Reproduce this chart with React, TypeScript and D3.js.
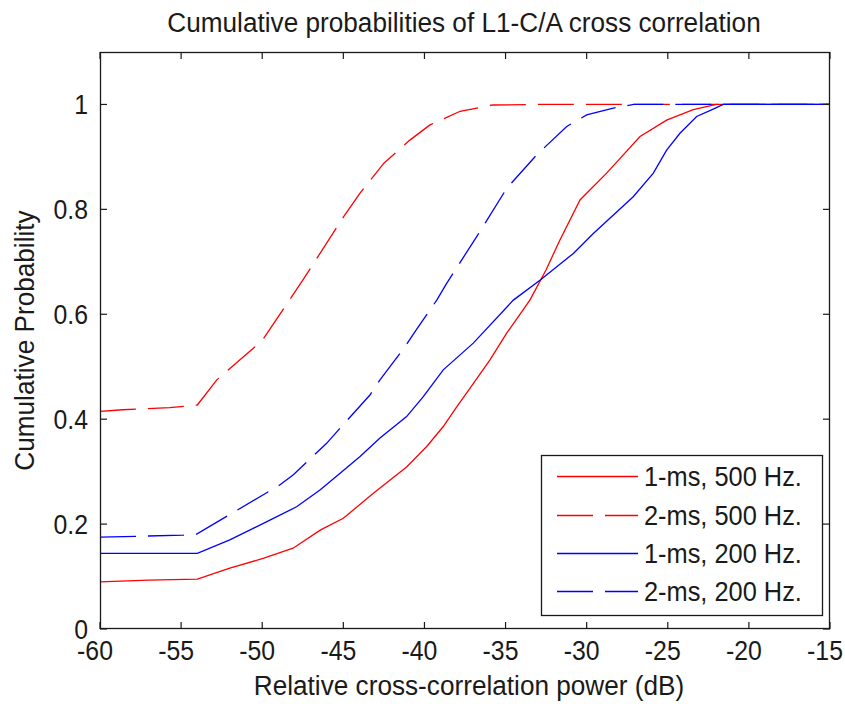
import React from 'react';
import * as d3 from 'd3';

const titleText = 'Cumulative probabilities of L1-C/A cross correlation';
const xLabel = 'Relative cross-correlation power (dB)';
const yLabel = 'Cumulative Probability';
const xTicks = [-60, -55, -50, -45, -40, -35, -30, -25, -20, -15];
const yTicks = [0, 0.2, 0.4, 0.6, 0.8, 1];

const red1X = [-60, -57, -54, -52, -49.9, -48.1, -46.4, -45, -43.15, -41.1, -39.86, -38.84, -38, -36.99, -35.96, -34.93, -33.5, -32.5, -31.64, -30.41, -28.77, -26.71, -25.07, -23.43, -22, -15];
const red1Y = [0.09, 0.093, 0.095, 0.116, 0.135, 0.154, 0.189, 0.211, 0.259, 0.309, 0.348, 0.386, 0.424, 0.468, 0.513, 0.564, 0.627, 0.685, 0.742, 0.818, 0.869, 0.939, 0.97, 0.99, 1, 1];

const red2X = [-60, -58.6, -55.7, -54, -52.8, -50, -47.5, -45, -43.97, -42.5, -40.9, -39.66, -37.8, -35.8, -33, -15];
const red2Y = [0.415, 0.418, 0.422, 0.427, 0.475, 0.55, 0.665, 0.785, 0.831, 0.888, 0.932, 0.961, 0.987, 0.999, 1, 1];

const blue1X = [-60, -54, -52, -49.93, -47.88, -46.44, -45.2, -43.97, -42.74, -41.1, -40.07, -38.84, -36.99, -34.52, -32.88, -30.82, -29.59, -27.13, -25.89, -25.07, -24.25, -23.22, -22.2, -21.58, -15];
const blue1Y = [0.144, 0.144, 0.17, 0.2015, 0.233, 0.265, 0.297, 0.329, 0.364, 0.405, 0.443, 0.494, 0.545, 0.627, 0.665, 0.716, 0.754, 0.824, 0.869, 0.913, 0.945, 0.977, 0.991, 1, 1];

const blue2X = [-60, -54.87, -54.04, -51.9, -48.9, -48.08, -46.03, -45.2, -43.36, -42.74, -41.2, -40.58, -39.24, -38.63, -36.78, -34.93, -33.08, -31.23, -30, -28.36, -27.1, -15];
const blue2Y = [0.175, 0.179, 0.181, 0.22, 0.275, 0.294, 0.354, 0.383, 0.446, 0.475, 0.538, 0.567, 0.627, 0.659, 0.748, 0.84, 0.904, 0.958, 0.98, 0.993, 1, 1];

const seriesNames = ['1-ms, 500 Hz.', '2-ms, 500 Hz.', '1-ms, 200 Hz.', '2-ms, 200 Hz.'];
const seriesColors = ['#ff0000', '#ff0000', '#0000ff', '#0000ff'];
const seriesDashed = [false, true, false, true];

const W = 845;
const H = 704;
const M = { left: 100, right: 830, top: 52, bottom: 629 };
const FONT = '"Liberation Sans", Arial, Helvetica, sans-serif';
const INK = '#1a1a1a';

function T(props: {
  x: number;
  y: number;
  size: number;
  sx?: number;
  anchor?: string;
  rotate?: number;
  children: React.ReactNode;
}) {
  const { x, y, size, sx = 0.92, anchor = 'start', rotate = 0, children } = props;
  return (
    <text
      transform={`translate(${x},${y}) rotate(${rotate}) scale(${sx},1)`}
      fontSize={size}
      textAnchor={anchor}
      fill={INK}
    >
      {children}
    </text>
  );
}

export default function App() {
  const x = d3.scaleLinear().domain([-60, -15]).range([M.left, M.right]);
  const y = d3.scaleLinear().domain([0, 1.1]).range([M.bottom, M.top]);
  const line = d3
    .line<[number, number]>()
    .x((d) => x(d[0]))
    .y((d) => y(d[1]));

  const series = [
    d3.zip(red1X, red1Y) as [number, number][],
    d3.zip(red2X, red2Y) as [number, number][],
    d3.zip(blue1X, blue1Y) as [number, number][],
    d3.zip(blue2X, blue2Y) as [number, number][],
  ];
  const tickLen = 7;
  const dash = '36,12';

  const legend = { x: 541.5, y: 455.5, w: 281, h: 160 };
  const rowY = [476.5, 515.5, 553.5, 591.5];

  return (
    <svg
      width={W}
      height={H}
      style={{ position: 'absolute', left: 0, top: 0, background: '#fff' }}
      fontFamily={FONT}
    >
      <rect x={0} y={0} width={W} height={H} fill="#fff" />
      <T x={464} y={32} size={28} sx={0.935} anchor="middle">
        {titleText}
      </T>
      {/* series */}
      <g fill="none" strokeWidth={1.3}>
        {series.map((s, i) => (
          <path
            key={i}
            d={line(s) || ''}
            stroke={seriesColors[i]}
            strokeDasharray={seriesDashed[i] ? dash : undefined}
          />
        ))}
      </g>
      {/* axes box */}
      <rect
        x={M.left + 0.5}
        y={M.top + 0.5}
        width={M.right - M.left - 1}
        height={M.bottom - M.top - 1}
        fill="none"
        stroke={INK}
        strokeWidth={1.3}
      />
      {xTicks.map((t) => (
        <g key={'x' + t}>
          <line x1={x(t)} x2={x(t)} y1={M.bottom} y2={M.bottom - tickLen} stroke={INK} strokeWidth={1.2} />
          <line x1={x(t)} x2={x(t)} y1={M.top} y2={M.top + tickLen} stroke={INK} strokeWidth={1.2} />
          <T x={x(t) - 5} y={660} size={27} anchor="middle">
            {t}
          </T>
        </g>
      ))}
      {yTicks.map((t) => (
        <g key={'y' + t}>
          <line x1={M.left} x2={M.left + tickLen} y1={y(t)} y2={y(t)} stroke={INK} strokeWidth={1.2} />
          <line x1={M.right} x2={M.right - tickLen} y1={y(t)} y2={y(t)} stroke={INK} strokeWidth={1.2} />
          <T x={88} y={y(t) + 9.5} size={27} anchor="end">
            {t}
          </T>
        </g>
      ))}
      <T x={469} y={695} size={28} sx={0.935} anchor="middle">
        {xLabel}
      </T>
      <T x={34} y={(M.top + M.bottom) / 2} size={28} sx={0.935} anchor="middle" rotate={-90}>
        {yLabel}
      </T>
      {/* legend */}
      <rect
        x={legend.x}
        y={legend.y}
        width={legend.w}
        height={legend.h}
        fill="#fff"
        stroke={INK}
        strokeWidth={1.3}
      />
      {seriesNames.map((n, i) => (
        <g key={n}>
          <line
            x1={557}
            x2={638}
            y1={rowY[i]}
            y2={rowY[i]}
            stroke={seriesColors[i]}
            strokeWidth={1.3}
            strokeDasharray={seriesDashed[i] ? dash : undefined}
          />
          <T x={644} y={rowY[i] + 9} size={27} sx={0.94}>
            {n}
          </T>
        </g>
      ))}
    </svg>
  );
}
